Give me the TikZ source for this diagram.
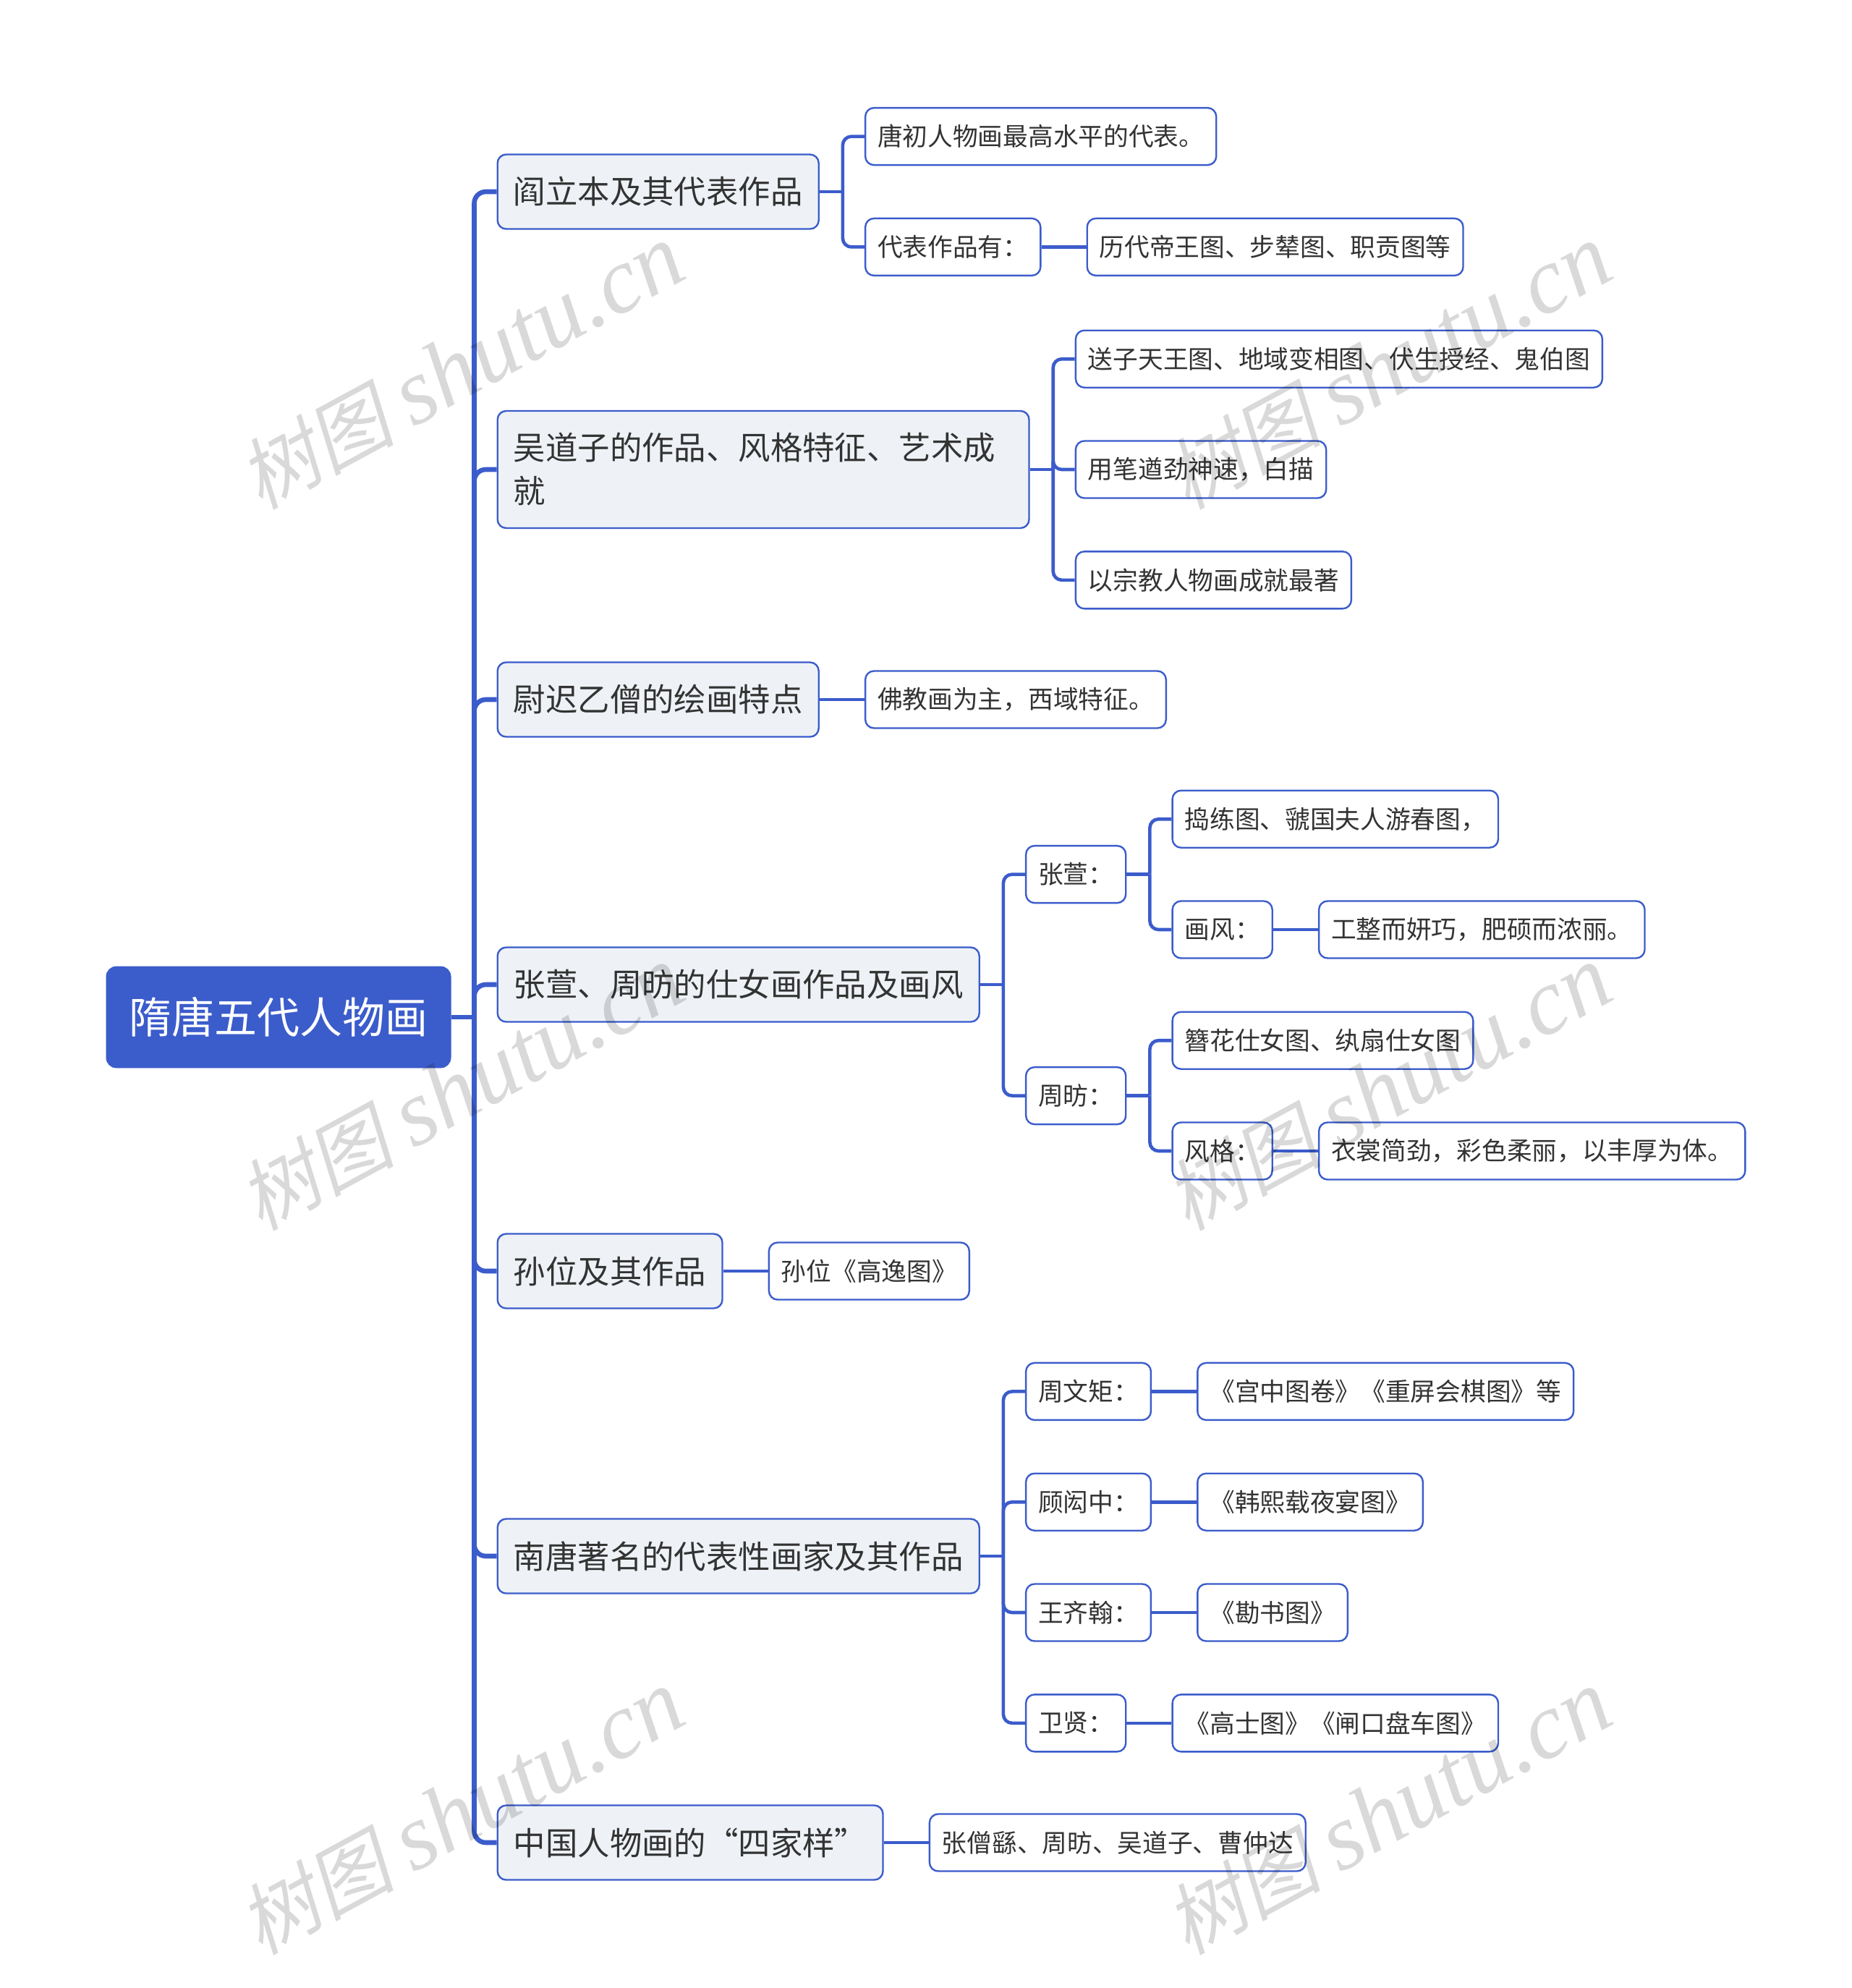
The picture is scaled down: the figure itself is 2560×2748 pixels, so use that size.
\documentclass[tikz,border=0pt]{standalone}
\usepackage{fontspec}
\usepackage{xcolor}
\usetikzlibrary{positioning}
\setmainfont{Noto Sans CJK SC}
\newfontfamily\stampcjk{Noto Sans CJK SC}[FakeSlant=0.2]
\newfontfamily\stamplatin{Liberation Serif Italic}
\definecolor{mapblue}{HTML}{3B5CCB}
\definecolor{mapfill}{HTML}{EEF2F6}
\definecolor{mapink}{HTML}{333333}
\begin{document}
\begin{tikzpicture}[x=.5pt, y=-.5pt,
      rootbox/.style = {shape=rectangle, rounded corners=7pt, draw=mapblue, fill=mapblue,
        text=white, inner xsep=15.8pt, minimum height=70pt, font=\fontsize{29.5}{36}\selectfont},
      topicbox/.style = {shape=rectangle, rounded corners=6pt, draw=mapblue, fill=mapfill, line width=1.2pt,
        text=mapink, align=left, inner xsep=11.1pt, minimum height=51.5pt, font=\fontsize{22.2}{30}\selectfont},
      leafbox/.style = {shape=rectangle, rounded corners=6pt, draw=mapblue, fill=white, line width=1.2pt,
        text=mapink, inner xsep=8.5pt, minimum height=39.5pt, font=\fontsize{17.35}{22}\selectfont},
      trunk/.style = {draw=mapblue, line width=3.3pt, rounded corners=8pt},
      twig/.style = {draw=mapblue, line width=2.3pt, rounded corners=6pt},
      stamp/.style = {rotate=28.5, text=black, text opacity=.15}]
    \path[use as bounding box] (0,0) rectangle (2560,2748);
    \node[rootbox] (root) at (385,1406) {隋唐五代人物画};
    \node[topicbox, right=31.5pt of root, yshift=570.5pt] (yan) {阎立本及其代表作品};
    \node[topicbox, right=31.5pt of root, yshift=378.5pt, text width=345.2pt, minimum height=81pt] (wu) {吴道子的作品、风格特征、艺术成\\就};
    \node[topicbox, right=31.5pt of root, yshift=219.5pt] (yuchi) {尉迟乙僧的绘画特点};
    \node[topicbox, right=31.5pt of root, yshift=22.5pt] (zhang) {张萱、周昉的仕女画作品及画风};
    \node[topicbox, right=31.5pt of root, yshift=-175.5pt] (sun) {孙位及其作品};
    \node[topicbox, right=31.5pt of root, yshift=-372.5pt] (nantang) {南唐著名的代表性画家及其作品};
    \node[topicbox, right=31.5pt of root, yshift=-570.5pt] (sijia) {中国人物画的“四家样”};
    \node[leafbox, right=31pt of yan, yshift=38.2pt] (tangchu) {唐初人物画最高水平的代表。};
    \node[leafbox, right=31pt of yan, yshift=-38.2pt] (daibiao) {代表作品有：};
    \node[leafbox, right=31pt of daibiao] (lidai) {历代帝王图、步辇图、职贡图等};
    \node[leafbox, right=31pt of wu, yshift=76.4pt] (songzi) {送子天王图、地域变相图、伏生授经、鬼伯图};
    \node[leafbox, right=31pt of wu] (yongbi) {用笔遒劲神速，白描};
    \node[leafbox, right=31pt of wu, yshift=-76.4pt] (zongjiao) {以宗教人物画成就最著};
    \node[leafbox, right=31pt of yuchi] (fojiao) {佛教画为主，西域特征。};
    \node[leafbox, right=31pt of zhang, yshift=76.2pt] (xuan) {张萱：};
    \node[leafbox, right=31pt of zhang, yshift=-76.8pt] (fang) {周昉：};
    \node[leafbox, right=31pt of xuan, yshift=38.2pt] (daolian) {捣练图、虢国夫人游春图，};
    \node[leafbox, right=31pt of xuan, yshift=-38.2pt] (huafeng) {画风：};
    \node[leafbox, right=31pt of huafeng] (gongzheng) {工整而妍巧，肥硕而浓丽。};
    \node[leafbox, right=31pt of fang, yshift=38.2pt] (zanhua) {簪花仕女图、纨扇仕女图};
    \node[leafbox, right=31pt of fang, yshift=-38.2pt] (fengge) {风格：};
    \node[leafbox, right=31pt of fengge] (yishang) {衣裳简劲，彩色柔丽，以丰厚为体。};
    \node[leafbox, right=31pt of sun] (gaoyi) {孙位《高逸图》};
    \node[leafbox, right=31pt of nantang, yshift=113.8pt] (wenju) {周文矩：};
    \node[leafbox, right=31pt of nantang, yshift=37.4pt] (hongzhong) {顾闳中：};
    \node[leafbox, right=31pt of nantang, yshift=-39pt] (qihan) {王齐翰：};
    \node[leafbox, right=31pt of nantang, yshift=-115.4pt] (weixian) {卫贤：};
    \node[leafbox, right=31pt of wenju] (gongzhong) {《宫中图卷》《重屏会棋图》等};
    \node[leafbox, right=31pt of hongzhong] (hanxi) {《韩熙载夜宴图》};
    \node[leafbox, right=31pt of qihan] (kanshu) {《勘书图》};
    \node[leafbox, right=31pt of weixian] (gaoshi) {《高士图》《闸口盘车图》};
    \node[leafbox, right=31pt of sijia] (sengyou) {张僧繇、周昉、吴道子、曹仲达};
    \draw[trunk] (root.east) -- ++(16pt,0) coordinate (rootjoint);
    \foreach \kid in {yan,wu,yuchi,zhang,sun,nantang,sijia}
      \draw[trunk] (rootjoint) |- (\kid.west);
    \foreach \dad/\kid in {yan/tangchu,yan/daibiao,wu/songzi,wu/yongbi,wu/zongjiao,
        zhang/xuan,zhang/fang,xuan/daolian,xuan/huafeng,fang/zanhua,fang/fengge,
        nantang/wenju,nantang/hongzhong,nantang/qihan,nantang/weixian} {
      \draw[twig] (\dad.east) -- ++(16pt,0) coordinate (joint);
      \draw[twig] (joint) |- (\kid.west);
    }
    \foreach \dad/\kid in {daibiao/lidai,yuchi/fojiao,huafeng/gongzheng,fengge/yishang,sun/gaoyi,
        wenju/gongzhong,hongzhong/hanxi,qihan/kanshu,weixian/gaoshi,sijia/sengyou}
      \draw[twig] (\dad.east) -- (\kid.west);
    \foreach \mx/\my/\mname in {638/508/a,1919/508/b,638/1505/c,1919/1505/d,638/2506/e,1919/2506/f}
      \node[stamp] (stamp\mname) at (\mx,\my) {\fontsize{54}{60}\stampcjk 树图 \fontsize{65}{60}\stamplatin shutu.cn};
  \end{tikzpicture}
\end{document}
